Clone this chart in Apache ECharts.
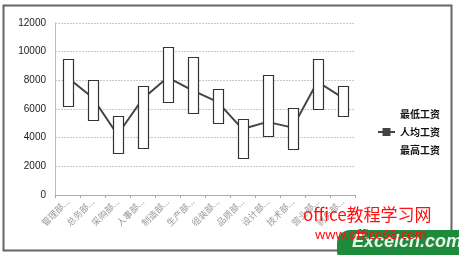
<!DOCTYPE html>
<html>
<head>
<meta charset="utf-8">
<script src="https://cdn.jsdelivr.net/npm/echarts@6/dist/echarts.min.js"></script>
<style>
html,body{margin:0;padding:0;background:#fff;}
#chart{width:459px;height:255px;}
</style>
</head>
<body>
<div id="chart"></div>
<script>
const categories = ['管理部...', '总务部...', '采购部...', '人事部...', '制造部...', '生产部...', '组装部...', '品质部...', '设计部...', '技术部...', '营业部...', '财务部...'];
const lowWage = [6200, 5200, 2900, 3300, 6500, 5700, 5000, 2600, 4100, 3200, 6000, 5500];
const avgWage = [8200, 6800, 4200, 6700, 8200, 7300, 6500, 4600, 5100, 4700, 7900, 6800];
const highWage = [9500, 8000, 5500, 7600, 10300, 9600, 7400, 5300, 8400, 6100, 9500, 7600];
const yTicks = [0, 2000, 4000, 6000, 8000, 10000, 12000];

const chart = echarts.init(document.getElementById('chart'), null, {renderer: 'canvas'});

const boxData = categories.map((c, i) => [i, lowWage[i], highWage[i]]);

const option = {
  animation: false,
  backgroundColor: '#fff',
  grid: {left: 55, right: 104, top: 23, bottom: 60, containLabel: false},
  legend: {
    orient: 'vertical',
    left: 372,
    top: 104,
    itemWidth: 17,
    itemHeight: 10,
    itemGap: 8,
    textStyle: {fontSize: 10, color: '#111', fontFamily: 'Noto Sans CJK SC', fontWeight: 'bold'},
    data: ['最低工资', '人均工资', '最高工资']
  },
  xAxis: {
    type: 'category',
    data: categories,
    boundaryGap: true,
    axisLine: {lineStyle: {color: '#aaa', width: 1}},
    axisTick: {show: true, length: 3, lineStyle: {color: '#aaa'}},
    axisLabel: {rotate: 45, fontSize: 9, color: '#999', fontFamily: 'Noto Sans CJK SC', margin: 5, interval: 0}
  },
  yAxis: {
    type: 'value',
    min: yTicks[0],
    max: yTicks[yTicks.length - 1],
    interval: 2000,
    axisLine: {show: true, lineStyle: {color: '#bbb'}},
    axisTick: {show: false},
    axisLabel: {fontSize: 10, color: '#222', fontFamily: 'Liberation Sans', margin: 9, formatter: function (v) { return String(v); }},
    splitLine: {lineStyle: {color: '#c8c8c8', type: [2, 1], width: 1}}
  },
  series: [
    {
      name: '最低工资',
      type: 'line',
      data: lowWage,
      symbol: 'none',
      lineStyle: {opacity: 0},
      itemStyle: {opacity: 0},
      silent: true,
      z: 1
    },
    {
      name: '人均工资',
      type: 'line',
      data: avgWage,
      symbol: 'rect',
      symbolSize: 5,
      lineStyle: {color: '#444', width: 2},
      itemStyle: {color: '#444'},
      z: 2
    },
    {
      name: '最高工资',
      type: 'line',
      data: highWage,
      symbol: 'none',
      lineStyle: {opacity: 0},
      itemStyle: {opacity: 0},
      silent: true,
      z: 1
    },
    {
      type: 'custom',
      data: boxData,
      encode: {x: 0, y: [1, 2]},
      z: 5,
      renderItem: function (params, api) {
        const pLow = api.coord([api.value(0), api.value(1)]);
        const pHigh = api.coord([api.value(0), api.value(2)]);
        const w = 10;
        const x0 = Math.round(pLow[0] - w / 2) + 0.5;
        const y0 = Math.round(pHigh[1]) + 0.5;
        const y1 = Math.round(pLow[1]) + 0.5;
        return {
          type: 'rect',
          shape: {x: x0, y: y0, width: w, height: y1 - y0},
          style: {fill: '#fff', stroke: '#333', lineWidth: 1.2}
        };
      }
    }
  ],
  graphic: [
    {
      type: 'rect',
      z: 100,
      silent: true,
      shape: {x: 3.5, y: 5.5, width: 448, height: 245},
      style: {fill: 'none', stroke: '#666', lineWidth: 2}
    },
    {
      type: 'rect',
      z: 101,
      silent: true,
      shape: {x: 337, y: 230, width: 140, height: 34, r: 13},
      style: {fill: '#1e8a3c'}
    },
    {
      type: 'text',
      z: 102,
      silent: true,
      style: {text: 'Excelcn.com', x: 352, y: 233, fill: '#e8f4ea', font: 'italic bold 18px "Liberation Sans"'}
    },
    {
      type: 'text',
      z: 103,
      silent: true,
      style: {text: 'office教程学习网', x: 303, y: 206, fill: '#ff1010', font: '17px "Noto Sans CJK SC"'}
    },
    {
      type: 'text',
      z: 103,
      silent: true,
      style: {text: 'www.office68.com', x: 315, y: 229, fill: '#ff1010', font: '13px "Noto Sans"'}
    }
  ]
};

chart.setOption(option);
</script>
</body>
</html>
